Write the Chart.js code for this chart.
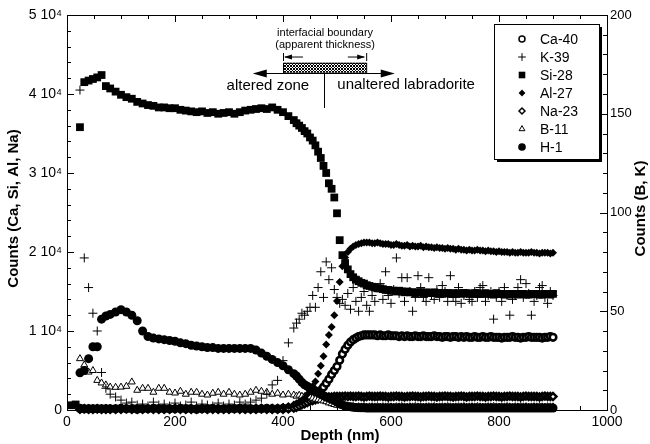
<!DOCTYPE html>
<html>
<head>
<meta charset="utf-8">
<title>SIMS depth profile</title>
<script src="https://cdn.jsdelivr.net/npm/chart.js@4.4.1/dist/chart.umd.min.js"></script>
<style>
  html, body { margin: 0; padding: 0; background: #fff; }
  #wrap { width: 650px; height: 444px; }
</style>
</head>
<body>
<div id="wrap"><canvas id="chart" width="650" height="444"></canvas></div>
<script>
// depth (nm), shared by every element
const depth = [
  8, 16, 24, 32, 40, 48, 56, 64, 72, 80,
  90, 100, 110, 120, 130, 140, 150, 160, 170, 180,
  190, 200, 210, 220, 230, 240, 250, 260, 270, 280,
  290, 300, 310, 320, 330, 340, 350, 360, 370, 380,
  390, 400, 410,
  420, 425, 430, 435, 440, 445, 450, 455, 460, 465,
  470, 475, 480, 485, 490, 495, 500, 505, 510, 515,
  520, 525, 530, 535, 540, 545, 550, 555, 560, 565,
  570, 575, 580, 585, 590, 595, 600, 605, 610, 615,
  620, 625, 630, 635, 640, 645, 650, 655, 660, 665,
  670, 675, 680, 685, 690, 695, 700, 705, 710, 715,
  720, 725, 730, 735, 740, 745, 750, 755, 760, 765,
  770, 775, 780, 785, 790, 795, 800, 805, 810, 815,
  820, 825, 830, 835, 840, 845, 850, 855, 860, 865,
  870, 875, 880, 885, 890, 895, 900
];

// left axis counts
const ca40 = [
  null, null, 200, 150, 150, 150, 150, 150, 150, 150,
  150, 200, 150, 150, 100, 150, 150, 200, 150, 150,
  150, 150, 200, 150, 150, 100, 150, 150, 200, 150,
  150, 150, 150, 200, 150, 150, 150, 150, 200, 150,
  150, 200, 250,
  350, 450, 600, 800, 1000, 1200, 1400, 1600, 1900, 2200,
  2500, 2900, 3400, 3900, 4500, 5000, 5500, 6300, 7100, 7700,
  8200, 8600, 8900, 9100, 9300, 9400, 9500, 9500, 9500, 9500,
  9500, 9400, 9500, 9400, 9400, 9500, 9400, 9400, 9400, 9300,
  9400, 9300, 9400, 9300, 9300, 9400, 9300, 9300, 9400, 9300,
  9300, 9300, 9400, 9300, 9300, 9200, 9300, 9300, 9200, 9300,
  9300, 9200, 9300, 9200, 9300, 9200, 9200, 9300, 9200, 9200,
  9300, 9200, 9200, 9300, 9200, 9200, 9200, 9100, 9200, 9200,
  9200, 9300, 9200, 9200, 9100, 9200, 9200, 9300, 9200, 9200,
  9200, 9200, 9100, 9200, 9200, 9300, 9200
];

const si28 = [
  600, 700, 35800, 41500, 41700, 41900, 42100, 42400, 41000, 40700,
  40300, 39900, 39600, 39400, 39000, 38800, 38600, 38500, 38300, 38300,
  38200, 38200, 38000, 37900, 37800, 37700, 37800, 37600, 37700, 37500,
  37600, 37700, 37500, 37700, 37900, 38000, 38100, 38200, 38100, 38300,
  38000, 37700, 37200,
  36700, 36300, 36000, 35700, 35300, 35000, 34500, 34100, 33500, 32700,
  31900, 30900, 30000, 28700, 28000, 26900, 24900, 21500, 19600, 18600,
  17800, 17200, 16800, 16500, 16300, 16100, 16000, 15800, 15700, 15600,
  15500, 15400, 15400, 15300, 15200, 15200, 15100, 15100, 15000, 15100,
  15000, 14900, 15000, 14900, 14900, 14800, 14900, 14900, 14800, 14900,
  14800, 14800, 14900, 14800, 14800, 14700, 14800, 14800, 14700, 14800,
  14700, 14800, 14700, 14800, 14800, 14700, 14700, 14800, 14800, 14700,
  14700, 14800, 14700, 14700, 14600, 14800, 14700, 14700, 14600, 14700,
  14600, 14700, 14700, 14600, 14700, 14700, 14600, 14600, 14700, 14700,
  14700, 14600, 14600, 14700, 14700, 14600, 14700
];

const al27 = [
  null, null, 300, 250, 300, 250, 300, 250, 300, 250,
  300, 250, 300, 300, 250, 300, 250, 300, 300, 250,
  300, 250, 300, 250, 300, 300, 250, 300, 250, 300,
  300, 250, 300, 300, 250, 300, 300, 350, 300, 350,
  350, 400, 500,
  700, 850, 1000, 1250, 1500, 2000, 2500, 3000, 3600, 4600,
  5600, 6800, 8300, 9500, 10500, 12000, 13800, 16200, 18200, 19300,
  20000, 20400, 20700, 20900, 21000, 21100, 21200, 21200, 21200, 21100,
  21100, 21200, 21100, 21000, 21000, 21000, 20900, 20900, 21000, 20900,
  20800, 20800, 20900, 20700, 20800, 20700, 20700, 20800, 20600, 20700,
  20600, 20600, 20500, 20600, 20500, 20500, 20400, 20500, 20400, 20400,
  20300, 20400, 20300, 20300, 20200, 20300, 20200, 20200, 20300, 20200,
  20200, 20100, 20200, 20100, 20100, 20000, 20100, 20000, 20000, 20000,
  19900, 20000, 19900, 19900, 20000, 19900, 19900, 19900, 20000, 19900,
  19900, 19800, 19900, 19900, 19900, 19800, 19900
];

const na23 = [
  null, null, 100, 150, 100, 100, 150, 100, 100, 100,
  100, 100, 150, 100, 100, 100, 150, 100, 100, 100,
  100, 150, 100, 100, 100, 100, 150, 100, 100, 100,
  100, 100, 150, 100, 100, 100, 100, 150, 100, 100,
  100, 100, 150,
  250, 350, 500, 650, 800, 950, 1100, 1200, 1300, 1400,
  1500, 1550, 1600, 1650, 1650, 1700, 1700, 1700, 1700, 1750,
  1700, 1750, 1700, 1700, 1750, 1700, 1650, 1700, 1750, 1700,
  1700, 1700, 1750, 1700, 1700, 1650, 1700, 1700, 1750, 1700,
  1700, 1650, 1700, 1700, 1750, 1700, 1700, 1650, 1700, 1700,
  1750, 1700, 1700, 1650, 1700, 1700, 1750, 1700, 1700, 1650,
  1700, 1700, 1750, 1700, 1650, 1700, 1700, 1700, 1750, 1700,
  1700, 1650, 1700, 1700, 1750, 1700, 1700, 1650, 1700, 1700,
  1750, 1700, 1700, 1700, 1650, 1700, 1750, 1700, 1700, 1700,
  1700, 1650, 1700, 1750, 1700, 1700, 1700
];

const h1 = [
  null, null, 4700, 5000, 6500, 8000, 8000, 11500, 11900, 12100,
  12400, 12700, 12400, 12000, 11300, 10000, 9300, 9100, 9000, 8900,
  8800, 8700, 8500, 8400, 8200, 8100, 8000, 7900, 7900, 7800,
  7800, 7800, 7800, 7800, 7800, 7800, 7600, 7200, 6800, 6400,
  6000, 5600, 5100,
  4600, 4300, 3900, 3500, 3200, 3000, 2800, 2600, 2400, 2200,
  2000, 1800, 1650, 1500, 1350, 1200, 1000, 850, 650, 500,
  450, 400, 350, 320, 300, 280, 270, 260, 260, 250,
  260, 250, 250, 240, 250, 250, 240, 250, 240, 250,
  250, 260, 250, 240, 250, 250, 260, 250, 240, 250,
  250, 240, 250, 250, 260, 250, 240, 250, 250, 250,
  240, 250, 250, 260, 250, 240, 250, 250, 240, 250,
  250, 250, 240, 250, 260, 250, 250, 240, 250, 250,
  250, 240, 250, 250, 250, 260, 250, 240, 250, 250,
  240, 250, 250, 250, 240, 250, 250
];

// right axis counts
const k39 = [
  null, null, 162, 77, 62, 49, 40, 19, 11, 8,
  6.6, 5, 3.5, 4, 2.5, 3, 2, 4, 2.5, 3,
  2, 3.5, 2, 2.5, 4, 2, 3, 2.5, 2, 3.5,
  2, 3, 2.5, 4, 3, 4, 5, 6, 8, 12.7,
  15, 25, 34,
  41.5, 44, 46, 49, 48, 50, 52, 58, 52, 62,
  70, 57, 75, 66, 72, 61, 57, 54, 56, 53,
  59, 51, 62, 55, 50, 57, 60, 53, 50, 58,
  55, 62, 64, 56, 70, 58, 54, 61, 77, 59,
  67, 55, 67, 60, 50, 57, 68, 62, 57, 55,
  67, 58, 56, 61, 57, 63, 60, 55, 68, 57,
  55, 62, 54, 58, 59, 56, 55, 60, 57, 62,
  63, 55, 58, 60, 46, 57, 60, 55, 62, 58,
  48, 56, 58, 62, 66, 57, 64, 59, 48, 55,
  58, 62, 63, 57, 54, 60, 58
];

const b11 = [
  null, null, 26, 22.8, 19.2, 20, 15, 13.7, 12.7, 11.6,
  11.5, 11.6, 12, 14.2, 10, 11, 11, 9, 11, 11,
  9, 8.6, 9.5, 8, 9, 9, 8, 7.6, 8.5, 9,
  8, 9, 8, 7.6, 8, 9, 10, 9.5, 9, 8,
  8.5, 7.6, 8,
  7.6, 7, 7.5, 7, 6.8, 6.6, 6.6, 6, 5.5, 5.2,
  5, 4.6, 4.2, 3.6, 3.2, 2.8, 2.4, 2.2, 2, 1.8,
  1.8, 1.6, 1.8, 1.5, 1.7, 1.6, 1.8, 1.5, 1.6, 1.7,
  1.6, 1.8, 1.5, 1.7, 1.6, 1.8, 1.6, 1.5, 1.7, 1.6,
  1.8, 1.6, 1.5, 1.7, 1.6, 1.8, 1.6, 1.7, 1.5, 1.6,
  1.7, 1.6, 1.8, 1.5, 1.6, 1.7, 1.6, 1.8, 1.6, 1.5,
  1.6, 1.7, 1.6, 1.8, 1.5, 1.6, 1.7, 1.6, 1.8, 1.6,
  1.5, 1.6, 1.7, 1.6, 1.8, 1.6, 1.5, 1.7, 1.6, 1.8,
  1.6, 1.5, 1.7, 1.6, 1.8, 1.6, 1.7, 1.5, 1.6, 1.7,
  1.6, 1.8, 1.6, 1.5, 1.7, 1.6, 1.6
];

const xTicks = [0, 200, 400, 600, 800, 1000];
const leftTicks = [0, 10000, 20000, 30000, 40000, 50000];
const rightTicks = [0, 50, 100, 150, 200];

const FONT = "'Liberation Sans', Arial, Helvetica, sans-serif";
Chart.defaults.font.family = FONT;
Chart.defaults.font.size = 14;
Chart.defaults.color = '#000';

function toPoints(values) {
  const pts = [];
  depth.forEach((d, i) => {
    if (values[i] !== null) pts.push({ x: d, y: values[i] });
  });
  return pts;
}

function series(label, values, axis, style, radius, fill, border, order) {
  return {
    label: label,
    data: toPoints(values),
    yAxisID: axis,
    order: order,
    showLine: false,
    clip: false,
    pointStyle: style,
    pointRadius: radius,
    pointHoverRadius: radius,
    pointBackgroundColor: fill,
    pointBorderColor: '#000',
    pointBorderWidth: border
  };
}

// inward ticks and the frame round the plot
const frameTicks = {
  id: 'frameTicks',
  afterDatasetsDraw(chart) {
    const { ctx, chartArea: a, scales } = chart;
    ctx.save();
    ctx.strokeStyle = '#000';
    ctx.lineWidth = 1;
    ctx.strokeRect(a.left + 0.5, a.top + 0.5, a.right - a.left, a.bottom - a.top);
    ctx.beginPath();
    for (let v = 0; v <= 1000; v += 50) {
      const x = Math.round(scales.x.getPixelForValue(v)) + 0.5;
      const len = v % 200 === 0 ? 7 : 4;
      ctx.moveTo(x, a.bottom); ctx.lineTo(x, a.bottom - len);
      ctx.moveTo(x, a.top); ctx.lineTo(x, a.top + len);
    }
    for (let v = 0; v <= 50000; v += 2000) {
      const y = Math.round(scales.y.getPixelForValue(v)) + 0.5;
      const len = v % 10000 === 0 ? 7 : 4;
      ctx.moveTo(a.left, y); ctx.lineTo(a.left + len, y);
    }
    for (let v = 0; v <= 200; v += 10) {
      const y = Math.round(scales.y2.getPixelForValue(v)) + 0.5;
      const len = v % 50 === 0 ? 7 : 4;
      ctx.moveTo(a.right, y); ctx.lineTo(a.right - len, y);
    }
    ctx.stroke();
    ctx.restore();
  }
};

// the "interfacial boundary" sketch, placed in data units
const boundaryNote = {
  id: 'boundaryNote',
  afterDatasetsDraw(chart) {
    const ctx = chart.ctx;
    const X = v => chart.scales.x.getPixelForValue(v);
    const Y = v => chart.scales.y.getPixelForValue(v);
    ctx.save();
    ctx.fillStyle = '#000';
    ctx.strokeStyle = '#000';
    ctx.lineWidth = 1;
    ctx.textAlign = 'center';
    ctx.textBaseline = 'middle';

    ctx.font = '11px ' + FONT;
    ctx.fillText('interfacial boundary', X(478), Y(47700));
    ctx.fillText('(apparent thickness)', X(478), Y(46200));

    function head(x, y, dir, len, half) {
      ctx.beginPath();
      ctx.moveTo(x, y);
      ctx.lineTo(x - dir * len, y - half);
      ctx.lineTo(x - dir * len, y + half);
      ctx.closePath();
      ctx.fill();
    }

    // hatched bar
    const bx0 = X(400), bx1 = X(554), by0 = Y(43950), by1 = Y(42700);
    const pc = document.createElement('canvas');
    pc.width = 3; pc.height = 3;
    const p = pc.getContext('2d');
    p.strokeStyle = '#000';
    p.lineWidth = 1;
    p.beginPath();
    p.moveTo(0, 0); p.lineTo(3, 3);
    p.moveTo(3, 0); p.lineTo(0, 3);
    p.stroke();
    ctx.fillStyle = ctx.createPattern(pc, 'repeat');
    ctx.fillRect(bx0, by0, bx1 - bx0, by1 - by0);
    ctx.fillStyle = '#000';
    ctx.strokeRect(bx0 + 0.5, by0 + 0.5, bx1 - bx0, by1 - by0);

    // small arrows above the bar
    const ys = Y(44680);
    ctx.beginPath();
    ctx.moveTo(bx0 + 0.5, ys - 4); ctx.lineTo(bx0 + 0.5, ys + 4);
    ctx.moveTo(bx0 + 2, ys); ctx.lineTo(X(437), ys);
    ctx.moveTo(bx1 + 0.5, ys - 4); ctx.lineTo(bx1 + 0.5, ys + 4);
    ctx.moveTo(bx1 - 2, ys); ctx.lineTo(X(520), ys);
    ctx.stroke();
    head(bx0 + 1, ys, -1, 8, 2.5);
    head(bx1 - 1, ys, 1, 8, 2.5);

    // main arrows and the divider
    const ya = Math.round(by1) + 0.5;
    const xl = X(344), xr = X(607);
    ctx.beginPath();
    ctx.moveTo(xl + 10, ya); ctx.lineTo(xr - 10, ya);
    const xm = Math.round(X(476)) + 0.5;
    ctx.moveTo(xm, ya); ctx.lineTo(xm, Y(38230));
    ctx.stroke();
    head(xl, ya, -1, 14, 4);
    head(xr, ya, 1, 14, 4);

    ctx.font = '15px ' + FONT;
    ctx.fillText('altered zone', X(372), Y(41000));
    ctx.fillText('unaltered labradorite', X(628), Y(41150));
    ctx.restore();
  }
};

// axis titles and the boxed legend
const titlesLegend = {
  id: 'titlesLegend',
  afterDraw(chart) {
    const ctx = chart.ctx;
    const a = chart.chartArea;
    const midY = (a.top + a.bottom) / 2 - 4;
    ctx.save();
    ctx.fillStyle = '#000';
    ctx.textAlign = 'center';
    ctx.textBaseline = 'middle';
    ctx.font = 'bold 15px ' + FONT;
    ctx.fillText('Depth (nm)', 340, 436);
    ctx.save();
    ctx.translate(14, midY);
    ctx.rotate(-Math.PI / 2);
    ctx.fillText('Counts (Ca, Si, Al, Na)', 0, 0);
    ctx.restore();
    ctx.save();
    ctx.translate(641, midY);
    ctx.rotate(-Math.PI / 2);
    ctx.fillText('Counts (B, K)', 0, 0);
    ctx.restore();

    const lx = 494, ly = 24, lw = 105, lh = 135;
    ctx.fillRect(lx + 3, ly + 3, lw, lh);
    ctx.fillStyle = '#fff';
    ctx.fillRect(lx, ly, lw, lh);
    ctx.strokeStyle = '#000';
    ctx.lineWidth = 1;
    ctx.strokeRect(lx + 0.5, ly + 0.5, lw, lh);

    ctx.font = '14px ' + FONT;
    ctx.textAlign = 'left';
    chart.data.datasets.forEach((ds, i) => {
      const y = 39 + i * 18;
      ctx.fillStyle = ds.pointBackgroundColor;
      ctx.strokeStyle = '#000';
      ctx.lineWidth = Math.min(ds.pointBorderWidth || 1, 1.5);
      Chart.helpers.drawPoint(ctx, {
        pointStyle: ds.pointStyle,
        radius: Math.max(ds.pointRadius * 0.85, 3),
        borderWidth: ds.pointBorderWidth,
        rotation: 0
      }, 522, y);
      ctx.fillStyle = '#000';
      ctx.fillText(ds.label, 540, y + 1);
    });
    ctx.restore();
  }
};

new Chart(document.getElementById('chart'), {
  type: 'scatter',
  data: {
    datasets: [
      series('Ca-40', ca40, 'y', 'circle', 3.3, '#fff', 2.6, 6),
      series('K-39', k39, 'y2', 'cross', 4.5, '#000', 1, 3),
      series('Si-28', si28, 'y', 'rect', 5.5, '#000', 0, 2),
      series('Al-27', al27, 'y', 'rectRot', 4, '#000', 0, 0),
      series('Na-23', na23, 'y', 'rectRot', 3.5, '#fff', 2.4, 5),
      series('B-11', b11, 'y2', 'triangle', 4, '#fff', 1, 4),
      series('H-1', h1, 'y', 'circle', 4.5, '#000', 0, 1)
    ]
  },
  options: {
    responsive: false,
    animation: false,
    events: [],
    layout: { padding: { top: 15, left: 0, right: 0, bottom: 0 } },
    plugins: {
      legend: { display: false },
      tooltip: { enabled: false }
    },
    scales: {
      x: {
        type: 'linear',
        min: 0,
        max: 1000,
        afterBuildTicks: s => { s.ticks = xTicks.map(v => ({ value: v })); },
        ticks: { padding: 4, color: '#000', maxRotation: 0, callback: v => String(v) },
        grid: { display: false, drawTicks: false },
        border: { display: false },
        afterFit: s => { s.height = 34; }
      },
      y: {
        position: 'left',
        min: 0,
        max: 50000,
        afterBuildTicks: s => { s.ticks = leftTicks.map(v => ({ value: v })); },
        ticks: {
          padding: 5,
          color: '#000',
          callback: v => v === 0 ? '0' : (v / 10000) + ' 10\u2074'
        },
        grid: { display: false, drawTicks: false },
        border: { display: false },
        afterFit: s => { s.width = 67; }
      },
      y2: {
        position: 'right',
        min: 0,
        max: 200,
        afterBuildTicks: s => { s.ticks = rightTicks.map(v => ({ value: v })); },
        ticks: { padding: 3, color: '#000', font: { size: 13 } },
        grid: { display: false, drawTicks: false },
        border: { display: false },
        afterFit: s => { s.width = 43; }
      }
    }
  },
  plugins: [frameTicks, boundaryNote, titlesLegend]
});
</script>
</body>
</html>
